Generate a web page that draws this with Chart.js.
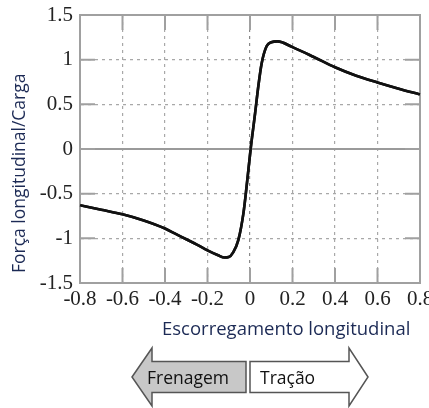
<!DOCTYPE html>
<html>
<head>
<meta charset="utf-8">
<script src="https://cdn.jsdelivr.net/npm/chart.js@4.4.1/dist/chart.umd.min.js"></script>
<style>
  html, body { margin: 0; padding: 0; background: #fff; }
  #wrap { width: 429px; height: 408px; }
</style>
</head>
<body>
<div id="wrap"><canvas id="chart" width="429" height="408"></canvas></div>
<script>
// slip (x) and normalised longitudinal force (y)
const slip = [-0.8, -0.7, -0.6, -0.5, -0.4, -0.35, -0.3, -0.25, -0.2, -0.15, -0.12, -0.1, -0.08, -0.055, -0.031, -0.016, 0.003, 0.024, 0.039, 0.055, 0.078, 0.1, 0.13, 0.2, 0.3, 0.4, 0.5, 0.6, 0.7, 0.8];
const force = [-0.63, -0.68, -0.73, -0.80, -0.89, -0.95, -1.01, -1.07, -1.135, -1.19, -1.215, -1.21, -1.16, -1.02, -0.72, -0.42, 0, 0.40, 0.70, 0.96, 1.15, 1.195, 1.205, 1.14, 1.03, 0.915, 0.82, 0.745, 0.675, 0.61];

const xTitle = 'Escorregamento longitudinal';
const yTitle = 'Força longitudinal/Carga';
const brakeLabel = 'Frenagem';
const tractionLabel = 'Tração';

const points = slip.map((x, i) => ({ x, y: force[i] }));

const fmt = (v) => String(+Number(v).toFixed(1));
const gridGray = '#a8a8a8';
const frameGray = '#a0a0a0';

// no extra room for overhanging tick labels
function noPad(s) {
  s.paddingLeft = 0;
  s.paddingRight = 0;
  s.paddingTop = 0;
  s.paddingBottom = 0;
}

const extras = {
  id: 'extras',
  afterDraw(chart) {
    const { ctx, chartArea: a, scales } = chart;
    const xs = scales.x;
    const ys = scales.y;
    ctx.save();

    // solid zero line
    const y0 = ys.getPixelForValue(0);
    ctx.strokeStyle = '#9a9a9a';
    ctx.lineWidth = 2;
    ctx.beginPath();
    ctx.moveTo(a.left, y0);
    ctx.lineTo(a.right, y0);
    ctx.stroke();

    // frame
    ctx.strokeStyle = frameGray;
    ctx.lineWidth = 2;
    ctx.strokeRect(a.left, a.top, a.right - a.left, a.bottom - a.top);

    // inner tick marks
    const tl = 15;
    ctx.beginPath();
    xs.ticks.forEach((t) => {
      const px = xs.getPixelForValue(t.value);
      ctx.moveTo(px, a.top);
      ctx.lineTo(px, a.top + tl);
      ctx.moveTo(px, a.bottom);
      ctx.lineTo(px, a.bottom - tl);
    });
    ys.ticks.forEach((t) => {
      const py = ys.getPixelForValue(t.value);
      ctx.moveTo(a.left, py);
      ctx.lineTo(a.left + tl, py);
      ctx.moveTo(a.right, py);
      ctx.lineTo(a.right - tl, py);
    });
    ctx.stroke();

    // redraw curve on top of the zero line
    chart.getDatasetMeta(0).dataset.draw(ctx, a);

    // axis titles
    ctx.fillStyle = '#1c2a55';
    ctx.font = '18.5px "Open Sans"';
    ctx.textBaseline = 'middle';
    ctx.textAlign = 'left';
    ctx.fillText(xTitle, 162, 330);

    ctx.save();
    ctx.translate(20, 273);
    ctx.rotate(-Math.PI / 2);
    ctx.font = '17.5px "Open Sans"';
    ctx.fillText(yTitle, 0, 0);
    ctx.restore();

    // direction arrows
    const cy = 377;
    ctx.lineWidth = 1.5;
    ctx.strokeStyle = '#555';
    ctx.lineJoin = 'miter';

    ctx.beginPath();
    ctx.moveTo(132, cy);
    ctx.lineTo(152, cy - 29);
    ctx.lineTo(152, cy - 15.5);
    ctx.lineTo(246, cy - 15.5);
    ctx.lineTo(246, cy + 15.5);
    ctx.lineTo(152, cy + 15.5);
    ctx.lineTo(152, cy + 29);
    ctx.closePath();
    ctx.fillStyle = '#c8c8c8';
    ctx.fill();
    ctx.stroke();

    ctx.beginPath();
    ctx.moveTo(368, cy);
    ctx.lineTo(349, cy - 29);
    ctx.lineTo(349, cy - 15.5);
    ctx.lineTo(250, cy - 15.5);
    ctx.lineTo(250, cy + 15.5);
    ctx.lineTo(349, cy + 15.5);
    ctx.lineTo(349, cy + 29);
    ctx.closePath();
    ctx.fillStyle = '#ffffff';
    ctx.fill();
    ctx.stroke();

    ctx.fillStyle = '#111';
    ctx.font = '17.5px "Open Sans"';
    ctx.textAlign = 'left';
    ctx.fillText(brakeLabel, 147, 379);
    ctx.fillText(tractionLabel, 260, 379);

    ctx.restore();
  }
};

new Chart(document.getElementById('chart'), {
  type: 'line',
  data: {
    datasets: [{
      data: points,
      borderColor: '#111',
      borderWidth: 2.6,
      pointRadius: 0,
      fill: false,
      cubicInterpolationMode: 'monotone',
    }]
  },
  options: {
    responsive: false,
    animation: false,
    layout: { padding: { left: 0, top: 15, right: 9, bottom: 0 } },
    plugins: {
      legend: { display: false },
      tooltip: { enabled: false }
    },
    scales: {
      x: {
        type: 'linear',
        min: -0.8,
        max: 0.8,
        afterFit: (s) => { s.height = 125; noPad(s); },
        ticks: {
          stepSize: 0.2,
          padding: 4,
          color: '#222',
          font: { family: '"Liberation Serif"', size: 21 },
          maxRotation: 0,
          autoSkip: false,
          callback: (v) => fmt(v)
        },
        grid: {
          drawTicks: false,
          lineWidth: 1.2,
          color: (c) => (c.tick && c.tick.value === 0 ? '#888' : gridGray)
        },
        border: { color: frameGray, width: 2, dash: [3, 4] }
      },
      y: {
        min: -1.5,
        max: 1.5,
        afterFit: (s) => { s.width = 80; noPad(s); },
        ticks: {
          stepSize: 0.5,
          padding: 7,
          color: '#222',
          font: { family: '"Liberation Serif"', size: 21 },
          callback: (v) => fmt(v)
        },
        grid: {
          drawTicks: false,
          lineWidth: 1.2,
          color: gridGray
        },
        border: { color: frameGray, width: 2, dash: [3, 4] }
      }
    }
  },
  plugins: [extras]
});
</script>
</body>
</html>
